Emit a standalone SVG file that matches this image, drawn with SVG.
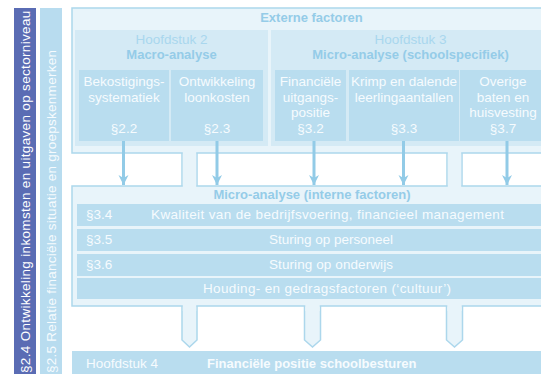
<svg xmlns="http://www.w3.org/2000/svg" width="541" height="374" viewBox="0 0 541 374">
<defs>
<style>
.t{font-family:"Liberation Sans",Arial,sans-serif;font-size:13.5px;}
.b{font-family:"Liberation Sans",Arial,sans-serif;font-size:13px;font-weight:bold;}
.w{fill:#f6fbfe;}
.ttl{fill:#95cce8;}
.lt{fill:#a9d7ee;}
.outer{fill:#e8f4fa;stroke:#acd7ec;stroke-width:1.5;}
.chap{fill:#d4eaf5;}
.sub{fill:#b9ddef;}
.erase{fill:#e8f4fa;}
.arr{stroke:#92cbe7;stroke-width:3;fill:none;marker-end:url(#ah);}
</style>
<marker id="ah" viewBox="0 0 10 10" refX="10" refY="5" markerWidth="10" markerHeight="11" markerUnits="userSpaceOnUse" orient="auto">
<path d="M0,0 L10,5 L0,10 L3,5 Z" fill="#92cbe7"/>
</marker>
</defs>
<rect width="541" height="374" fill="#ffffff"/>

<g id="side-24">
<rect x="14" y="8" width="22" height="366" fill="#5a6cb4"/>
<text class="t" fill="#ffffff" letter-spacing="0.33" transform="translate(30,373) rotate(-90)">§2.4 Ontwikkeling inkomsten en uitgaven op sectorniveau</text>
</g>
<g id="side-25">
<rect x="40" y="8" width="22" height="366" fill="#b8dcef"/>
<text class="t w" letter-spacing="0.26" transform="translate(56,373) rotate(-90)">§2.5 Relatie financiële situatie en groepskenmerken</text>
</g>

<g id="connectors">
<rect class="outer" x="182" y="150" width="15" height="40"/>
<rect class="outer" x="447" y="150" width="15" height="40"/>
<path class="outer" d="M182,302 L197,302 L197,340 L189.5,347 L182,340 Z"/>
<path class="outer" d="M304.5,302 L320.5,302 L320.5,340 L312.5,347 L304.5,340 Z"/>
<path class="outer" d="M446.5,302 L462.5,302 L462.5,340 L454.5,347 L446.5,340 Z"/>
</g>

<g id="externe">
<rect class="outer" x="72" y="8" width="490" height="145"/>
<text class="b ttl" x="311.5" y="22" text-anchor="middle">Externe factoren</text>
</g>

<g id="micro-intern">
<rect class="outer" x="72" y="186" width="490" height="120"/>
<text class="b ttl" x="312" y="199" text-anchor="middle">Micro-analyse (interne factoren)</text>
</g>

<g id="erase-joints">
<rect class="erase" x="182.8" y="151" width="13.4" height="37"/>
<rect class="erase" x="447.8" y="151" width="13.4" height="37"/>
<rect class="erase" x="182.8" y="303" width="13.4" height="8"/>
<rect class="erase" x="305.3" y="303" width="14.4" height="8"/>
<rect class="erase" x="447.3" y="303" width="14.4" height="8"/>
</g>

<g id="hfd2">
<rect class="chap" x="75" y="30" width="193" height="116"/>
<text class="t lt" x="171.5" y="44" text-anchor="middle">Hoofdstuk 2</text>
<text class="b ttl" x="171.5" y="59" text-anchor="middle">Macro-analyse</text>
</g>
<g id="hfd3">
<rect class="chap" x="271" y="30" width="290" height="116"/>
<text class="t lt" x="410.5" y="44" text-anchor="middle">Hoofdstuk 3</text>
<text class="b ttl" x="410.5" y="59" text-anchor="middle">Micro-analyse (schoolspecifiek)</text>
</g>

<g id="s22">
<rect class="sub" x="79" y="70" width="90" height="71"/>
<text class="t w" x="124" y="86" text-anchor="middle">Bekostigings-</text>
<text class="t w" x="124" y="101.5" text-anchor="middle">systematiek</text>
<text class="t w" x="124" y="133" text-anchor="middle">§2.2</text>
</g>
<g id="s23">
<rect class="sub" x="171" y="70" width="92" height="71"/>
<text class="t w" x="217" y="86" text-anchor="middle">Ontwikkeling</text>
<text class="t w" x="217" y="101.5" text-anchor="middle">loonkosten</text>
<text class="t w" x="217" y="133" text-anchor="middle">§2.3</text>
</g>
<g id="s32">
<rect class="sub" x="275" y="70" width="71" height="71"/>
<text class="t w" x="310.5" y="86" text-anchor="middle">Financiële</text>
<text class="t w" x="310.5" y="101.5" text-anchor="middle">uitgangs-</text>
<text class="t w" x="310.5" y="117" text-anchor="middle">positie</text>
<text class="t w" x="310.5" y="133" text-anchor="middle">§3.2</text>
</g>
<g id="s33">
<rect class="sub" x="349" y="70" width="110" height="71"/>
<text class="t w" x="404" y="86" text-anchor="middle">Krimp en dalende</text>
<text class="t w" x="404" y="101.5" text-anchor="middle">leerlingaantallen</text>
<text class="t w" x="404" y="133" text-anchor="middle">§3.3</text>
</g>
<g id="s37">
<rect class="sub" x="460" y="70" width="90" height="71"/>
<text class="t w" x="503" y="86" text-anchor="middle">Overige</text>
<text class="t w" x="503" y="101.5" text-anchor="middle">baten en</text>
<text class="t w" x="503" y="117" text-anchor="middle">huisvesting</text>
<text class="t w" x="503" y="133" text-anchor="middle">§3.7</text>
</g>

<g id="arrows">
<line class="arr" x1="123.5" y1="141" x2="123.5" y2="185"/>
<line class="arr" x1="217" y1="141" x2="217" y2="185"/>
<line class="arr" x1="314" y1="141" x2="314" y2="185"/>
<line class="arr" x1="403.5" y1="141" x2="403.5" y2="185"/>
<line class="arr" x1="507" y1="141" x2="507" y2="185"/>
</g>

<g id="r34">
<rect class="sub" x="77" y="204" width="480" height="22"/>
<text class="t w" x="86" y="219">§3.4</text>
<text class="t w" x="151" y="219" textLength="353" lengthAdjust="spacing">Kwaliteit van de bedrijfsvoering, financieel management</text>
</g>
<g id="r35">
<rect class="sub" x="77" y="229" width="480" height="22"/>
<text class="t w" x="86" y="244">§3.5</text>
<text class="t w" x="269" y="244" textLength="124" lengthAdjust="spacing">Sturing op personeel</text>
</g>
<g id="r36">
<rect class="sub" x="77" y="254" width="480" height="22"/>
<text class="t w" x="86" y="269">§3.6</text>
<text class="t w" x="269" y="269" textLength="124" lengthAdjust="spacing">Sturing op onderwijs</text>
</g>
<g id="r-cultuur">
<rect class="sub" x="77" y="278" width="480" height="21"/>
<text class="t w" x="203" y="293" textLength="248" lengthAdjust="spacing">Houding- en gedragsfactoren (‘cultuur’)</text>
</g>

<g id="hfd4">
<rect class="sub" x="72" y="351" width="480" height="23"/>
<text class="t w" x="86" y="368">Hoofdstuk 4</text>
<text class="b w" x="207" y="368">Financiële positie schoolbesturen</text>
</g>
</svg>
